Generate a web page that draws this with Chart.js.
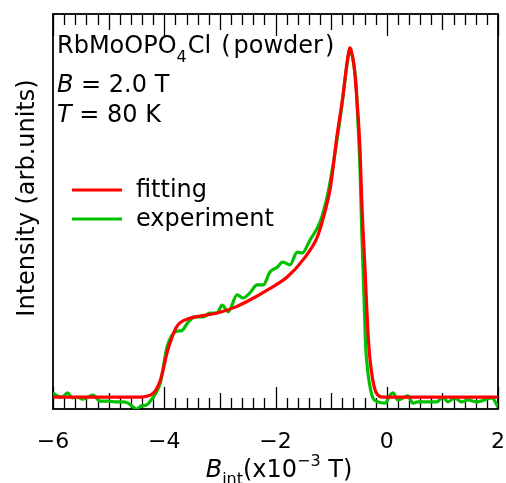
<!DOCTYPE html>
<html>
<head>
<meta charset="utf-8">
<script src="https://cdn.jsdelivr.net/npm/chart.js@4.4.1/dist/chart.umd.min.js"></script>
<style>
  body { margin: 0; background: #fff; }
  canvas { display: block; }
</style>
</head>
<body>
<canvas id="chart" width="506" height="483"></canvas>
<script>
// values (x in 1e-3 T, y in arbitrary units 0..100)
const fitX = [-6.0, -5.15, -4.43, -4.25, -4.16, -4.07, -4.02, -3.95, -3.86, -3.79, -3.72, -3.54, -3.36, -3.05,
  -2.76, -2.46, -2.15, -1.79, -1.51, -1.25, -1.11, -1.02, -0.97, -0.90, -0.79, -0.72, -0.68, -0.66, -0.64,
  -0.59, -0.54, -0.48, -0.45, -0.39, -0.34, -0.30, -0.25, -0.21, -0.16, -0.07, 2.0];
const fitY = [3.0, 3.0, 3.0, 3.5, 4.6, 7.3, 9.9, 14.2, 18.2, 20.5, 21.8, 23.0, 23.5, 24.3,
  25.6, 27.6, 30.1, 33.4, 37.7, 43.5, 50.0, 55.5, 60.5, 68.6, 79.0, 87.1, 90.6, 91.4, 90.8,
  87.1, 79.0, 65.6, 52.9, 35.2, 20.0, 12.4, 7.3, 4.8, 3.5, 3.0, 3.0];

const expX = [-6.0, -5.92, -5.83, -5.74, -5.65, -5.56, -5.47, -5.38, -5.28, -5.15, -5.01, -4.88, -4.76, -4.65,
  -4.56, -4.50, -4.41, -4.32, -4.25, -4.16, -4.07, -4.02, -3.95, -3.86, -3.77, -3.68, -3.57, -3.44, -3.30,
  -3.18, -3.05, -2.96, -2.85, -2.69, -2.58, -2.46, -2.33, -2.22, -2.10, -1.97, -1.87, -1.74, -1.61, -1.52,
  -1.38, -1.20, -1.06, -0.93, -0.81, -0.72, -0.66, -0.63, -0.59, -0.55, -0.52, -0.48, -0.45, -0.41, -0.38,
  -0.34, -0.29, -0.25, -0.16, -0.03, 0.06, 0.11, 0.20, 0.29, 0.38, 0.47, 0.56, 0.74, 0.90, 1.01, 1.10,
  1.22, 1.35, 1.46, 1.62, 1.76, 1.89, 2.0];
const expY = [4.1, 3.3, 3.0, 4.1, 2.8, 3.0, 2.5, 3.0, 3.5, 2.0, 2.0, 1.8, 1.8, 1.5,
  0.5, 0.0, 0.8, 1.0, 2.0, 3.8, 6.6, 10.4, 15.7, 18.7, 19.7, 19.9, 22.0, 23.3, 23.3,
  24.3, 24.3, 26.3, 24.6, 28.9, 28.1, 29.4, 31.4, 31.4, 34.7, 35.9, 37.2, 36.5, 39.7, 39.5,
  42.8, 47.3, 54.5, 64.8, 76.5, 86.6, 90.9, 89.9, 87.1, 82.0, 73.2, 60.5, 45.3, 28.9, 16.2,
  9.4, 4.8, 2.8, 1.8, 1.5, 3.5, 4.1, 2.3, 2.8, 3.3, 1.5, 1.8, 1.8, 1.8, 3.0, 1.8,
  2.8, 1.8, 2.3, 1.8, 2.3, 2.8, 0.5];

const xTickLabels = [-6, -4, -2, 0, 2];

const FONT = '"DejaVu Sans", sans-serif';

function toPoints(xs, ys) {
  return xs.map((x, i) => ({ x: x, y: ys[i] }));
}

const decor = {
  id: 'decor',
  beforeDatasetsDraw(chart) {
    const ctx = chart.ctx;
    const a = chart.chartArea;
    const xs = chart.scales.x;
    ctx.save();
    ctx.strokeStyle = '#000';
    ctx.lineWidth = 1.3;
    // inward ticks on top and bottom edges
    for (let i = -30; i <= 10; i++) {
      const v = i / 5;
      const px = Math.round(xs.getPixelForValue(v)) + 0.5;
      let len = 11;
      if (i % 10 === 0) len = 22;
      else if (i % 5 === 0) len = 16;
      ctx.beginPath();
      ctx.moveTo(px, a.bottom);
      ctx.lineTo(px, a.bottom - len);
      ctx.moveTo(px, a.top);
      ctx.lineTo(px, a.top + len);
      ctx.stroke();
    }
    ctx.lineWidth = 1.8;
    ctx.strokeRect(a.left, a.top, a.right - a.left, a.bottom - a.top);
    ctx.restore();
  },
  afterDraw(chart) {
    const ctx = chart.ctx;
    ctx.save();
    ctx.fillStyle = '#000';
    ctx.textBaseline = 'alphabetic';
    ctx.textAlign = 'left';

    // sample annotation
    let x = 57;
    ctx.font = '24px ' + FONT;
    ctx.fillText('RbMoOPO', x, 53);
    x += ctx.measureText('RbMoOPO').width;
    ctx.font = '16px ' + FONT;
    ctx.fillText('4', x, 62);
    x += ctx.measureText('4').width + 1;
    ctx.font = '24px ' + FONT;
    ctx.fillText('Cl', x, 53);
    x += ctx.measureText('Cl').width + 10;
    ctx.fillText('(', x, 53);
    x += ctx.measureText('(').width + 3;
    ctx.fillText('powder', x, 53);
    x += ctx.measureText('powder').width + 2;
    ctx.fillText(')', x, 53);

    ctx.font = 'italic 24px ' + FONT;
    ctx.fillText('B', 57, 92);
    let w = ctx.measureText('B').width;
    ctx.font = '24px ' + FONT;
    ctx.fillText(' = 2.0 T', 57 + w, 92);

    ctx.font = 'italic 24px ' + FONT;
    ctx.fillText('T', 57, 122);
    w = ctx.measureText('T').width;
    ctx.font = '24px ' + FONT;
    ctx.fillText(' = 80 K', 57 + w, 122);

    // legend
    const rows = [190, 219];
    chart.data.datasets.forEach((ds, i) => {
      ctx.strokeStyle = ds.borderColor;
      ctx.lineWidth = 3;
      ctx.beginPath();
      ctx.moveTo(72, rows[i]);
      ctx.lineTo(122, rows[i]);
      ctx.stroke();
      ctx.font = '24px ' + FONT;
      ctx.textBaseline = 'middle';
      ctx.fillText(ds.label, 136, rows[i] + 1);
    });
    ctx.textBaseline = 'alphabetic';

    // x title: B_int(x10^-3 T)
    const parts = [
      { t: 'B', f: 'italic 24px ', dy: 0 },
      { t: 'int', f: '16px ', dy: 7 },
      { t: '(x10', f: '24px ', dy: 0 },
      { t: '\u22123', f: '16px ', dy: -11 },
      { t: ' T)', f: '24px ', dy: 0 }
    ];
    let total = 0;
    parts.forEach(p => { ctx.font = p.f + FONT; total += ctx.measureText(p.t).width; });
    x = 279 - total / 2;
    parts.forEach(p => {
      ctx.font = p.f + FONT;
      ctx.fillText(p.t, x, 477 + p.dy);
      x += ctx.measureText(p.t).width;
    });

    // y title
    ctx.translate(34, 198);
    ctx.rotate(-Math.PI / 2);
    ctx.textAlign = 'center';
    ctx.font = '24px ' + FONT;
    ctx.fillText('Intensity (arb.units)', 0, 0);
    ctx.restore();
  }
};

new Chart(document.getElementById('chart'), {
  type: 'line',
  data: {
    datasets: [
      {
        label: 'fitting',
        data: toPoints(fitX, fitY),
        borderColor: '#ff0000',
        borderWidth: 3.2,
        pointRadius: 0,
        cubicInterpolationMode: 'monotone',
        fill: false
      },
      {
        label: 'experiment',
        data: toPoints(expX, expY),
        borderColor: '#00c000',
        borderWidth: 3.2,
        pointRadius: 0,
        cubicInterpolationMode: 'monotone',
        fill: false
      }
    ]
  },
  options: {
    responsive: false,
    animation: false,
    layout: { padding: { left: 53, right: 8, top: 14, bottom: 0 } },
    plugins: {
      legend: { display: false },
      tooltip: { enabled: false }
    },
    scales: {
      x: {
        type: 'linear',
        min: -6,
        max: 2,
        afterBuildTicks: (scale) => {
          scale.ticks = xTickLabels.map(v => ({ value: v }));
        },
        afterFit: (scale) => {
          scale.height = 74;
          scale.paddingLeft = 0;
          scale.paddingRight = 0;
        },
        grid: { display: false, drawTicks: false },
        border: { display: false },
        ticks: {
          color: '#000',
          padding: 20,
          maxRotation: 0,
          font: { family: FONT, size: 22 },
          callback: (v) => (v < 0 ? '\u2212' + Math.abs(v) : String(v))
        }
      },
      y: {
        type: 'linear',
        min: 0,
        max: 100,
        display: false
      }
    }
  },
  plugins: [decor]
});
</script>
</body>
</html>
